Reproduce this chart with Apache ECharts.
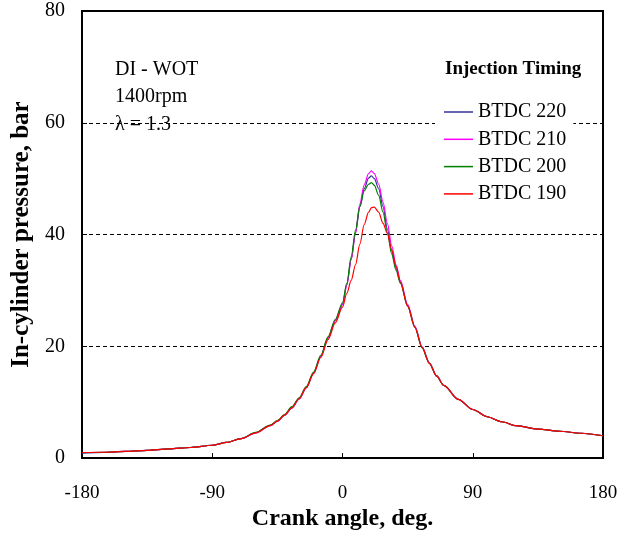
<!DOCTYPE html>
<html>
<head>
<meta charset="utf-8">
<script src="https://cdn.jsdelivr.net/npm/echarts@6/dist/echarts.min.js"></script>
<style>
html,body{margin:0;padding:0;background:#fff;}
#chart{width:629px;height:536px;}
</style>
</head>
<body>
<div id="chart"></div>
<script>
// Crank angle (deg.)
const angles = [-180,-165,-150,-135,-120,-105,-90,-80,-70,-60,-50,-45,-40,-35,-30,-25,-20,-15,-10,-5,0,
  3,6,9,12,15,18,20,22,25,28,31,34,37,40,45,50,55,60,65,70,80,90,100,110,120,135,150,165,180];

// In-cylinder pressure (bar)
const btdc220 = [0.9,1.0,1.2,1.4,1.65,1.9,2.3,2.8,3.5,4.5,5.8,6.6,7.7,9.0,10.6,12.6,15.2,18.2,21.5,24.6,27.5,
  31.0,35.5,40.3,45.0,48.2,50.1,50.5,50.0,48.2,45.0,41.0,37.0,34.0,31.5,27.3,23.5,19.8,17.0,14.7,13.0,10.5,8.7,7.4,6.5,5.8,5.2,4.8,4.45,4.0];
const btdc210 = [1.0,1.05,1.2,1.4,1.65,1.9,2.3,2.8,3.5,4.5,5.8,6.6,7.7,9.0,10.6,12.6,15.2,18.2,21.5,24.6,27.5,
  31.0,35.5,40.3,45.5,48.9,50.9,51.4,50.9,49.0,45.8,42.0,38.0,34.6,31.8,27.5,23.6,19.9,17.0,14.7,13.0,10.5,8.7,7.4,6.5,5.8,5.2,4.8,4.45,4.0];
const btdc200 = [1.0,1.05,1.2,1.4,1.65,1.9,2.3,2.8,3.5,4.6,5.9,6.7,7.8,9.2,10.8,12.8,15.4,18.4,21.7,24.8,27.8,
  31.3,36.0,40.8,45.0,47.8,49.0,49.3,48.8,47.0,44.0,40.3,36.5,33.6,31.3,27.2,23.4,19.7,17.0,14.7,13.0,10.5,8.7,7.4,6.5,5.8,5.2,4.8,4.45,4.0];
const btdc190 = [1.0,1.05,1.2,1.4,1.65,1.9,2.3,2.8,3.5,4.5,5.8,6.6,7.7,9.0,10.6,12.6,15.1,18.0,21.2,24.2,27.0,
  29.5,31.8,34.6,38.3,41.8,44.0,44.8,44.9,44.0,42.0,40.2,37.3,34.3,31.5,27.2,23.4,19.8,17.0,14.7,13.0,10.5,8.7,7.4,6.5,5.8,5.2,4.8,4.45,4.0];

const seriesNames = ['BTDC 220','BTDC 210','BTDC 200','BTDC 190'];
const seriesData = [btdc220, btdc210, btdc200, btdc190];
const seriesColors = ['#333399','#FF00FF','#008000','#FF0000'];

const xTicks = [-180,-90,0,90,180];
const yTicks = [0,20,40,60,80];

const FONT = '"Liberation Serif","Times New Roman",serif';

const chart = echarts.init(document.getElementById('chart'), null, {renderer:'canvas'});
chart.setOption({
  animation:false,
  backgroundColor:'#ffffff',
  grid:{left:82,right:26,top:11,bottom:76,show:true,borderColor:'#000',borderWidth:2,backgroundColor:'transparent'},
  xAxis:{
    type:'value',min:xTicks[0],max:xTicks[xTicks.length-1],interval:90,
    name:'Crank angle, deg.',nameLocation:'middle',nameGap:48,
    nameTextStyle:{fontFamily:FONT,fontSize:24,fontWeight:'bold',color:'#000'},
    axisLine:{show:true,onZero:false,lineStyle:{color:'#000',width:2}},
    axisTick:{show:true,inside:true,length:5,lineStyle:{color:'#000',width:1}},
    axisLabel:{fontFamily:FONT,fontSize:19,color:'#000',margin:25},
    splitLine:{show:false}
  },
  yAxis:{
    type:'value',min:yTicks[0],max:yTicks[yTicks.length-1],interval:20,
    name:'In-cylinder pressure, bar',nameLocation:'middle',nameGap:45,
    nameTextStyle:{fontFamily:FONT,fontSize:25,fontWeight:'bold',color:'#000'},
    axisLine:{show:true,onZero:false,lineStyle:{color:'#000',width:2}},
    axisTick:{show:true,inside:true,length:5,lineStyle:{color:'#000',width:1}},
    axisLabel:{fontFamily:FONT,fontSize:20,color:'#000',margin:17},
    splitLine:{show:true,lineStyle:{color:'#000',width:1.2,type:[4,3]}}
  },
  legend:{
    orient:'vertical',left:435,top:99,
    backgroundColor:'#ffffff',padding:[3,7,3,9],
    itemWidth:29,itemHeight:1.5,itemGap:7.3,icon:'rect',
    textStyle:{fontFamily:FONT,fontSize:20,color:'#000'},
    data:seriesNames
  },
  graphic:[
    {type:'text',left:115,top:60,style:{text:'DI - WOT',font:'20px '+FONT,fill:'#000'}},
    {type:'text',left:115,top:87,style:{text:'1400rpm',font:'20px '+FONT,fill:'#000'}},
    {type:'text',left:115,top:115,style:{text:'λ = 1.3',font:'20px '+FONT,fill:'#000'}},
    {type:'text',left:445,top:60,style:{text:'Injection Timing',font:'bold 19px '+FONT,fill:'#000'}}
  ],
  series:seriesNames.map((n,i)=>({
    name:n,type:'line',showSymbol:false,symbol:'none',
    smooth:0.3,smoothMonotone:'x',
    lineStyle:{color:seriesColors[i],width:1.2},
    itemStyle:{color:seriesColors[i]},
    z:2+i,
    data:angles.map((a,j)=>[a,seriesData[i][j]])
  }))
});
</script>
</body>
</html>
